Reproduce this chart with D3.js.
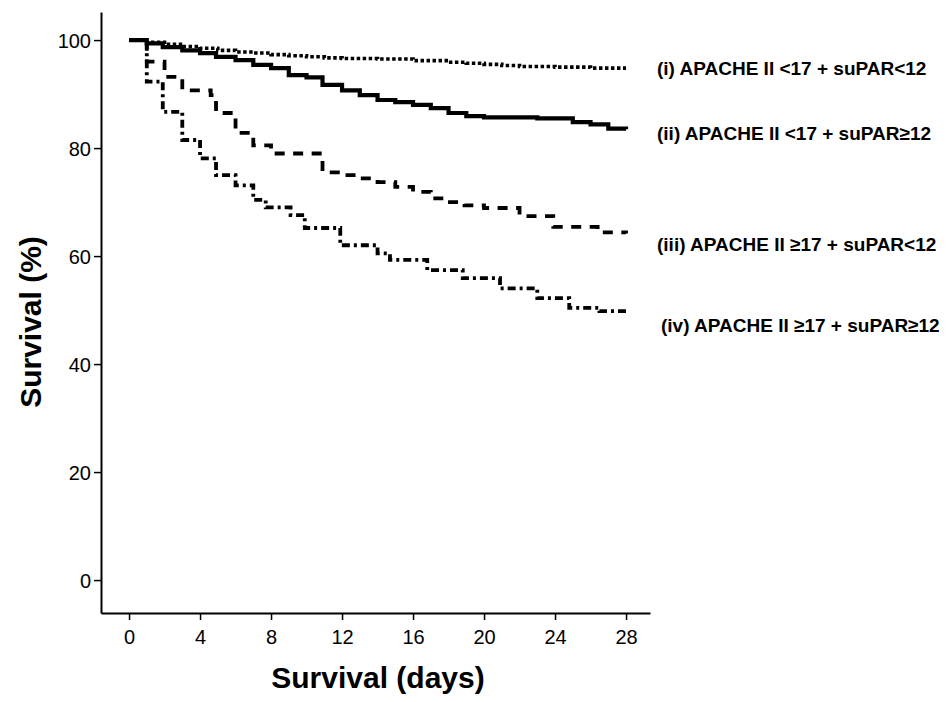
<!DOCTYPE html>
<html>
<head>
<meta charset="utf-8">
<script src="https://cdn.jsdelivr.net/npm/d3@7"></script>
<style>
  html, body { margin: 0; padding: 0; background: #fff; }
  svg { display: block; }
  text { font-family: "Liberation Sans", Arial, sans-serif; fill: #000; }
</style>
</head>
<body>
<svg id="chart" width="947" height="702"></svg>
<script>
// ---- data (days, survival %) ----
const daysI   = [0, 1, 2, 3, 4, 5, 6, 7, 8, 9, 10, 11, 12, 14, 16, 18, 19, 20, 21, 22, 24, 26, 28];
const survI   = [100, 99.6, 99.2, 98.8, 98.5, 98.1, 97.8, 97.6, 97.3, 97.1, 96.9, 96.7, 96.6, 96.5, 96.2, 95.9, 95.7, 95.5, 95.3, 95.1, 95.0, 94.8, 94.8];

const daysII  = [0, 1, 1.9, 3, 4, 4.9, 6, 7, 8, 9, 10, 10.9, 12, 13, 14, 15, 16, 17, 18, 19, 20, 23, 25, 26, 27, 28];
const survII  = [100, 99.4, 98.7, 98.1, 97.6, 96.9, 96.3, 95.4, 94.8, 93.5, 93.1, 91.7, 90.7, 89.8, 88.9, 88.5, 88.0, 87.4, 86.5, 85.9, 85.7, 85.5, 84.8, 84.4, 83.6, 83.5];

const daysIII = [0, 1, 2, 3, 4.6, 4.9, 6, 7, 8, 10.9, 11.9, 12.9, 14, 15, 16, 17, 17.9, 18.9, 20, 22, 23.9, 26.4, 28];
const survIII = [100, 96, 93.2, 90.7, 89.8, 86.5, 82.8, 80.5, 79, 75.5, 75, 74.4, 73.7, 72.8, 71.9, 70.7, 70, 69.4, 68.9, 67.4, 65.4, 64.4, 64.2];

const daysIV  = [0, 1, 1.9, 3, 4, 4.9, 6, 7, 7.7, 9.1, 9.9, 11.9, 14, 14.7, 16.8, 18.8, 20.9, 23, 24.8, 26.5, 28];
const survIV  = [100, 92.3, 86.7, 81.5, 78.1, 75, 73.1, 70.4, 69, 67.6, 65.2, 62, 60.5, 59.3, 57.4, 55.9, 54, 52.2, 50.4, 49.8, 49.8];

const groupLabels = [
  "(i) APACHE II <17 + suPAR<12",
  "(ii) APACHE II <17 + suPAR\u226512",
  "(iii) APACHE II \u226517 + suPAR<12",
  "(iv) APACHE II \u226517 + suPAR\u226512"
];
const xTicks = [0, 4, 8, 12, 16, 20, 24, 28];
const yTicks = [0, 20, 40, 60, 80, 100];
const xTitle = "Survival (days)";
const yTitle = "Survival (%)";

// ---- layout ----
const svg = d3.select("#chart");
const x = d3.scaleLinear().domain([-1.58, 29.35]).range([101, 650]);
const y = d3.scaleLinear().domain([-6.1, 105.2]).range([613, 12]);

// axes
const xAxis = d3.axisBottom(x).tickValues(xTicks).tickSize(7).tickSizeOuter(0).tickPadding(5);
const yAxis = d3.axisLeft(y).tickValues(yTicks).tickSize(7).tickSizeOuter(0).tickPadding(3);

const gx = svg.append("g").attr("transform", "translate(0,613)").call(xAxis);
const gy = svg.append("g").attr("transform", "translate(101,0)").call(yAxis);
[gx, gy].forEach(g => {
  g.select(".domain").attr("stroke", "#000").attr("stroke-width", 2);
  g.selectAll(".tick line").attr("stroke", "#000").attr("stroke-width", 1.5);
  g.selectAll(".tick text")
    .style("font-family", "'Liberation Sans', Arial, sans-serif")
    .style("font-size", "20px").attr("fill", "#000");
});
gx.selectAll(".tick text").attr("dy", "0.95em");
gy.selectAll(".tick text").attr("dy", "0.35em");

// titles
svg.append("text").attr("x", 378).attr("y", 688).attr("text-anchor", "middle")
  .style("font-size", "30px").style("font-weight", "bold").text(xTitle);
svg.append("text").attr("transform", "translate(41,322) rotate(-90)").attr("text-anchor", "middle")
  .style("font-size", "30px").style("font-weight", "bold").text(yTitle);

// curves
const series = [
  { days: daysI,   surv: survI,   dash: "3.5,2.5", w: 3.6 },
  { days: daysII,  surv: survII,  dash: null,      w: 4.2 },
  { days: daysIII, surv: survIII, dash: "10,8.5",  w: 3.8 },
  { days: daysIV,  surv: survIV,  dash: "8,4,3,4", w: 3.8 }
];
const line = d3.line().x(d => x(d[0])).y(d => y(d[1])).curve(d3.curveStepAfter);
series.forEach(s => {
  const pts = s.days.map((d, i) => [d, s.surv[i]]);
  svg.append("path").attr("d", line(pts))
    .attr("fill", "none").attr("stroke", "#000").attr("stroke-width", s.w)
    .attr("stroke-linecap", "butt")
    .attr("stroke-dasharray", s.dash);
});

// group labels
const labelPos = [[657, 75], [657, 140], [657, 251], [661, 332]];
groupLabels.forEach((t, i) => {
  svg.append("text").attr("x", labelPos[i][0]).attr("y", labelPos[i][1])
    .style("font-size", "19px").style("font-weight", "bold").text(t);
});
</script>
</body>
</html>
